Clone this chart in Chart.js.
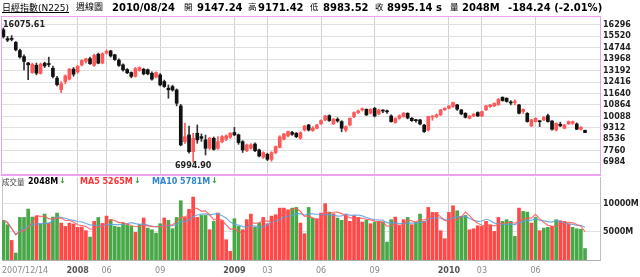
<!DOCTYPE html>
<html>
<head>
<meta charset="utf-8">
<script src="https://cdn.jsdelivr.net/npm/chart.js@4.4.0/dist/chart.umd.min.js"></script>
<style>
html, body { margin: 0; padding: 0; background: #fff; }
#wrap { position: relative; width: 640px; height: 277px; overflow: hidden; font-family: "DejaVu Sans", "Noto Sans CJK TC", sans-serif; }
.t { position: absolute; white-space: nowrap; line-height: 1; color: #000; }
.b { font-weight: bold; }
.cjk { font-family: "Noto Sans CJK TC", sans-serif; }
#k { position: absolute; left: 0; top: 0; }
#v { position: absolute; left: 0; top: 176px; }
#box { position: absolute; left: 1px; top: 16px; width: 600px; height: 160px; box-sizing: border-box; border: 1px solid #f0a0f0; border-bottom-width: 2px; pointer-events: none; }
</style>
</head>
<body>
<div id="wrap">
  <canvas id="k" width="640" height="176"></canvas>
  <canvas id="v" width="640" height="101"></canvas>
  <div id="box"></div>

  <span class="t" style="left:2px;top:3px;font-size:9px;text-decoration:underline;"><span class="cjk">日經指數</span>(N225)</span>
  <span class="t cjk" style="left:76px;top:2px;font-size:9px;">週線圖</span>
  <span class="t b" style="left:112px;top:3px;font-size:10px;">2010/08/24</span>
  <span class="t cjk" style="left:184px;top:2px;font-size:8.5px;">開</span>
  <span class="t b" style="left:197px;top:3px;font-size:10px;">9147.24</span>
  <span class="t cjk" style="left:248px;top:2px;font-size:8.5px;">高</span>
  <span class="t b" style="left:258px;top:3px;font-size:10px;">9171.42</span>
  <span class="t cjk" style="left:310px;top:2px;font-size:8.5px;">低</span>
  <span class="t b" style="left:323px;top:3px;font-size:10px;">8983.52</span>
  <span class="t cjk" style="left:375px;top:2px;font-size:8.5px;">收</span>
  <span class="t b" style="left:387px;top:3px;font-size:10px;">8995.14 s</span>
  <span class="t cjk" style="left:450px;top:2px;font-size:8.5px;">量</span>
  <span class="t b" style="left:462px;top:3px;font-size:10px;">2048M</span>
  <span class="t b" style="left:508px;top:3px;font-size:10px;">-184.24 (-2.01%)</span>

  <span class="t b" style="left:3px;top:21px;font-size:8px;color:#222;">16075.61</span>
  <span class="t b" style="left:175px;top:162px;font-size:8px;color:#222;">6994.90</span>

  <span class="t cjk" style="left:2px;top:178px;font-size:7.5px;color:#444;">成交量</span>
  <span class="t b" style="left:28px;top:178px;font-size:8px;">2048M</span>
  <span class="t b" style="left:59px;top:177px;font-size:8px;color:#2a9a2a;">↓</span>
  <span class="t b" style="left:80px;top:178px;font-size:8px;color:#ff3030;">MA5 5265M</span>
  <span class="t b" style="left:134px;top:177px;font-size:8px;color:#2a9a2a;">↓</span>
  <span class="t b" style="left:152px;top:178px;font-size:8px;color:#2f86d0;">MA10 5781M</span>
  <span class="t b" style="left:211px;top:177px;font-size:8px;color:#2a9a2a;">↓</span>
</div>
<script>
// weekly candles, 2007/12/14 .. 2010/08/24
const opens = [15950,15350,15380,15100,14550,14140,13700,13060,13550,13000,13690,13650,13350,12680,11900,12450,12610,13290,13100,13580,
  13830,14000,13540,14300,13700,14380,14520,14260,13900,13580,13260,13060,12800,13200,13280,13250,13010,12745,12900,12450,
  12000,12110,11880,10800,8380,8835,7705,8948,8720,8500,7930,8610,7930,8380,8540,8680,9000,8840,8380,7770,
  7930,8220,7820,7320,7525,7185,7640,7990,8540,8770,9000,8950,8610,9170,9510,9130,9290,9580,9850,10140,
  9580,9900,9740,9170,9510,10080,10350,10530,10570,10300,10640,10260,10500,10470,10120,9680,9970,10080,10300,9960,
  9840,9850,9500,9170,10040,10080,10190,10530,10640,10760,10870,10530,10300,9960,10120,10350,10120,10530,10760,10800,
  10870,11390,11320,11050,11030,10870,10420,10300,9440,9740,9760,9850,10140,9780,9170,9560,9290,9580,9625,9580,
  9220,9147.24];
const highs = [16075.61,15500,15560,15160,14650,14260,13750,13690,13700,13700,13760,14100,13500,12800,12450,12900,13330,13400,13550,13920,
  14020,14100,14300,14380,14400,14600,14560,14300,13980,13640,13330,13100,13400,13450,13350,13300,13100,13100,12990,12550,
  12220,12200,11950,10900,9630,9440,8950,9510,8900,8830,8680,8700,8720,8800,8850,9000,9350,8900,8450,8220,
  8250,8300,7880,7700,7600,7700,8100,8780,8950,9100,9080,9000,9050,9480,9550,9400,9550,9850,10170,10200,
  9950,10000,9800,9450,10000,10400,10520,10660,10600,10600,10700,10580,10560,10520,10200,10000,10200,10350,10340,10020,
  9900,9900,9560,10100,10150,10250,10560,10680,10830,11060,10900,10560,10350,10150,10280,10400,10450,10820,10900,11000,
  11300,11410,11350,11160,11210,10900,10600,10350,9900,10000,9800,10080,10250,9800,9650,9700,9550,9780,9770,9650,
  9400,9171.42];
const lows = [15390,15150,15200,14520,14030,13240,12570,13000,12900,12950,13400,13450,12700,12150,11691,12300,12550,12800,13000,13500,
  13700,13600,13480,13650,13650,14300,14100,13880,13480,13150,12990,12700,12750,13150,12900,12900,12550,12700,12150,12050,
  11320,11800,10800,8100,8270,7600,6994.90,8270,8400,7480,7850,7800,7850,8300,8450,8600,8780,8200,7650,7700,
  7880,7700,7350,7250,7100,7054,7560,7950,8500,8700,8800,8650,8540,9100,9100,9080,9250,9550,9800,9750,
  9550,9700,9050,9050,9450,10000,10300,10450,10150,10250,10050,10200,10350,10300,9700,9630,9900,10030,9920,9750,
  9700,9520,9000,9100,9830,10000,10150,10500,10600,10700,10500,10200,9980,9920,10080,10080,10080,10500,10700,10750,
  10850,11120,11050,10870,10870,10250,10300,9700,9400,9700,9400,9800,9700,9150,9100,9400,9250,9550,9550,9200,
  9150,8983.52];
const closes = [15480,15250,15300,14600,14110,13810,13580,13620,13020,13620,13510,13600,12790,12240,12300,12830,13290,12945,13480,13870,
  13990,13655,14220,13690,14340,14490,14180,13940,13540,13240,13040,12800,13330,13400,12970,12970,12610,13060,12225,12110,
  11890,11880,10980,8160,8720,7705,8610,8500,8610,7930,8610,7860,8380,8720,8770,8950,8840,8320,7820,8160,
  8160,7770,7410,7640,7185,7640,8045,8700,8900,9060,8880,8720,8990,9440,9170,9300,9510,9810,10120,9810,
  9900,9780,9290,9400,9960,10350,10460,10620,10190,10570,10120,10530,10450,10400,9740,9950,10130,10310,9980,9800,
  9800,9580,9060,10080,10110,10190,10530,10640,10800,11030,10580,10260,10030,10120,10250,10120,10420,10800,10870,10980,
  11250,11160,11100,11000,11090,10300,10570,9740,9850,9960,9730,10030,9740,9220,9620,9450,9510,9740,9740,9220,
  9355,8995.14];

// volume in millions of shares, and bar colour as drawn (1 = red, 0 = green)
const volumes = [7075,6300,3500,1240,7600,7600,9100,7670,7840,6480,8200,6600,7670,8380,6600,6000,6600,6420,5830,5880,
  5230,4100,6900,7600,6530,7840,7200,6000,5880,6600,6300,6000,4930,6300,7500,5700,5400,4800,6480,7500,
  7075,5580,7600,10580,7600,9040,11240,7600,7960,7960,5400,6900,8380,7020,3620,1540,7370,6000,5400,7200,
  8200,5830,6600,7600,6480,7840,8080,9270,9270,8970,9270,9390,6600,4690,9390,7500,7370,8380,10050,8560,
  8260,7490,7080,8090,6900,7900,7600,6780,7080,6480,6720,6900,6780,3200,7200,7670,6120,7200,7600,6300,
  6720,8200,6900,9390,8500,8500,5230,3800,8500,9690,8800,7790,7960,5400,5580,6120,6000,6900,6300,5110,
  7600,6900,7200,6900,4220,9270,8680,8560,6600,7600,5230,5700,5830,6000,7200,7020,6900,6420,5830,5580,
  5500,2048];
const volRed = [0,0,1,0,0,0,0,0,1,0,0,1,0,0,1,1,1,1,1,1,
  1,0,1,0,1,1,0,0,0,0,0,0,1,0,1,0,0,0,0,1,
  0,0,0,0,1,1,1,1,0,0,1,0,1,1,1,1,0,0,1,1,
  1,0,0,1,1,1,1,1,1,1,0,0,1,1,0,0,1,1,1,0,
  1,0,0,1,1,1,1,1,0,1,0,1,0,0,0,1,1,1,0,1,
  0,0,1,1,1,1,1,1,1,1,0,0,0,1,1,1,1,1,1,1,
  1,0,0,0,0,1,0,0,1,0,1,0,0,1,0,1,1,1,0,0,
  0,0];

const priceTicks = [6984, 7760, 8536, 9312, 10088, 10864, 11640, 12416, 13192, 13968, 14744, 15520, 16296];
const volTicks = [5000, 10000];
const xLabels = ['2007/12/14', '2008', '06', '09', '2009', '03', '06', '09', '2010', '03', '06'];
const xLabelIdx = [0, 18, 25, 38, 56, 64, 77, 90, 108, 116, 129];
const yearLabels = ['2008', '2009', '2010'];

const RED = '#ff5858';
const BLACK = '#111111';
const VRED = '#ff4848';
const VGREEN = '#48a848';
const FONT = 'DejaVu Sans';
const X_MIN = -0.34;
const X_MAX = 144.63;

Chart.defaults.font.family = FONT;

const idx = closes.map((c, i) => i);
const up = closes.map((c, i) => c >= opens[i]);

function movingAvg(arr, n) {
    return arr.map((v, i) => {
        const part = arr.slice(Math.max(0, i - n + 1), i + 1);
        return part.reduce((a, b) => a + b, 0) / part.length;
    });
}
const ma5 = movingAvg(volumes, 5);
const ma10 = movingAvg(volumes, 10);

function xTicks(scale, withEnd) {
    const t = xLabelIdx.map((v, k) => ({ value: k === 0 ? scale.min : v }));
    if (withEnd) t.push({ value: scale.max });
    scale.ticks = t;
}

// price panel
new Chart(document.getElementById('k'), {
    type: 'bar',
    data: {
        datasets: [
            {
                data: idx.map((i) => ({ x: i, y: [opens[i], closes[i]] })),
                backgroundColor: up.map((u) => (u ? RED : BLACK)),
                barThickness: 3,
                minBarLength: 1,
                grouped: false,
            },
            {
                data: idx.map((i) => ({ x: i, y: [lows[i], highs[i]] })),
                backgroundColor: up.map((u) => (u ? RED : '#333')),
                barThickness: 1,
                grouped: false,
            },
        ],
    },
    options: {
        responsive: false,
        animation: false,
        layout: { padding: { left: 2, top: 16, right: 0, bottom: 2 } },
        plugins: { legend: { display: false }, tooltip: { enabled: false } },
        scales: {
            x: {
                type: 'linear',
                min: X_MIN,
                max: X_MAX,
                offset: false,
                afterBuildTicks: (s) => xTicks(s, false),
                afterFit: (s) => { s.height = 0; s.paddingLeft = 0; s.paddingRight = 0; },
                ticks: { display: false },
                grid: {
                    offset: false,
                    drawTicks: false,
                    color: (ctx) => (ctx.index === 0 ? 'rgba(0,0,0,0)' : '#d2d2d2'),
                },
                border: { display: false },
            },
            y: {
                position: 'right',
                min: 6192,
                max: 16885,
                afterBuildTicks: (s) => { s.ticks = priceTicks.map((v) => ({ value: v })); },
                afterFit: (s) => { s.width = 40; s.paddingTop = 0; s.paddingBottom = 0; },
                ticks: {
                    padding: 3,
                    color: '#222',
                    font: { family: FONT, size: 8, weight: 'bold' },
                    callback: (v) => String(v),
                },
                grid: { drawTicks: false, color: '#e0e0e0' },
                border: { display: false },
            },
        },
    },
});

// volume panel
new Chart(document.getElementById('v'), {
    type: 'bar',
    data: {
        datasets: [
            {
                type: 'line',
                data: idx.map((i) => ({ x: i, y: ma5[i] })),
                borderColor: 'rgba(255,90,90,0.85)',
                borderWidth: 1.2,
                pointRadius: 0,
                tension: 0,
            },
            {
                type: 'line',
                data: idx.map((i) => ({ x: i, y: ma10[i] })),
                borderColor: 'rgba(90,160,225,0.85)',
                borderWidth: 1.2,
                pointRadius: 0,
                tension: 0,
            },
            {
                data: idx.map((i) => ({ x: i, y: volumes[i] })),
                backgroundColor: volRed.map((r) => (r ? VRED : VGREEN)),
                barThickness: 3,
                grouped: false,
            },
        ],
    },
    options: {
        responsive: false,
        animation: false,
        layout: { padding: { left: 2, top: 1, right: 0, bottom: 0 } },
        plugins: { legend: { display: false }, tooltip: { enabled: false } },
        scales: {
            x: {
                type: 'linear',
                min: X_MIN,
                max: X_MAX,
                offset: false,
                afterBuildTicks: (s) => xTicks(s, true),
                afterFit: (s) => { s.height = 17; s.paddingLeft = 0; s.paddingRight = 0; },
                ticks: {
                    align: 'inner',
                    autoSkip: false,
                    maxRotation: 0,
                    padding: 6,
                    callback: (v, i) => xLabels[i] || '',
                    color: (ctx) => (yearLabels.includes(xLabels[ctx.index]) ? '#555' : '#8a8a8a'),
                    font: (ctx) => ({
                        family: FONT,
                        size: 8,
                        weight: yearLabels.includes(xLabels[ctx.index]) ? 'bold' : 'normal',
                    }),
                },
                grid: {
                    offset: false,
                    drawTicks: false,
                    color: (ctx) => (ctx.index === 0 ? '#c8c8c8' : ctx.index > xLabels.length - 1 ? 'rgba(0,0,0,0)' : '#d2d2d2'),
                },
                border: { color: '#b0b0b0' },
            },
            y: {
                position: 'right',
                min: 0,
                max: 14821,
                afterBuildTicks: (s) => { s.ticks = volTicks.map((v) => ({ value: v })); },
                afterFit: (s) => { s.width = 40; s.paddingTop = 0; s.paddingBottom = 0; },
                ticks: {
                    padding: 3,
                    color: '#222',
                    font: { family: FONT, size: 8, weight: 'bold' },
                    callback: (v) => v + 'M',
                },
                grid: { drawTicks: false, color: '#e0e0e0' },
                border: { color: '#c0c0c0' },
            },
        },
    },
});
</script>
</body>
</html>
